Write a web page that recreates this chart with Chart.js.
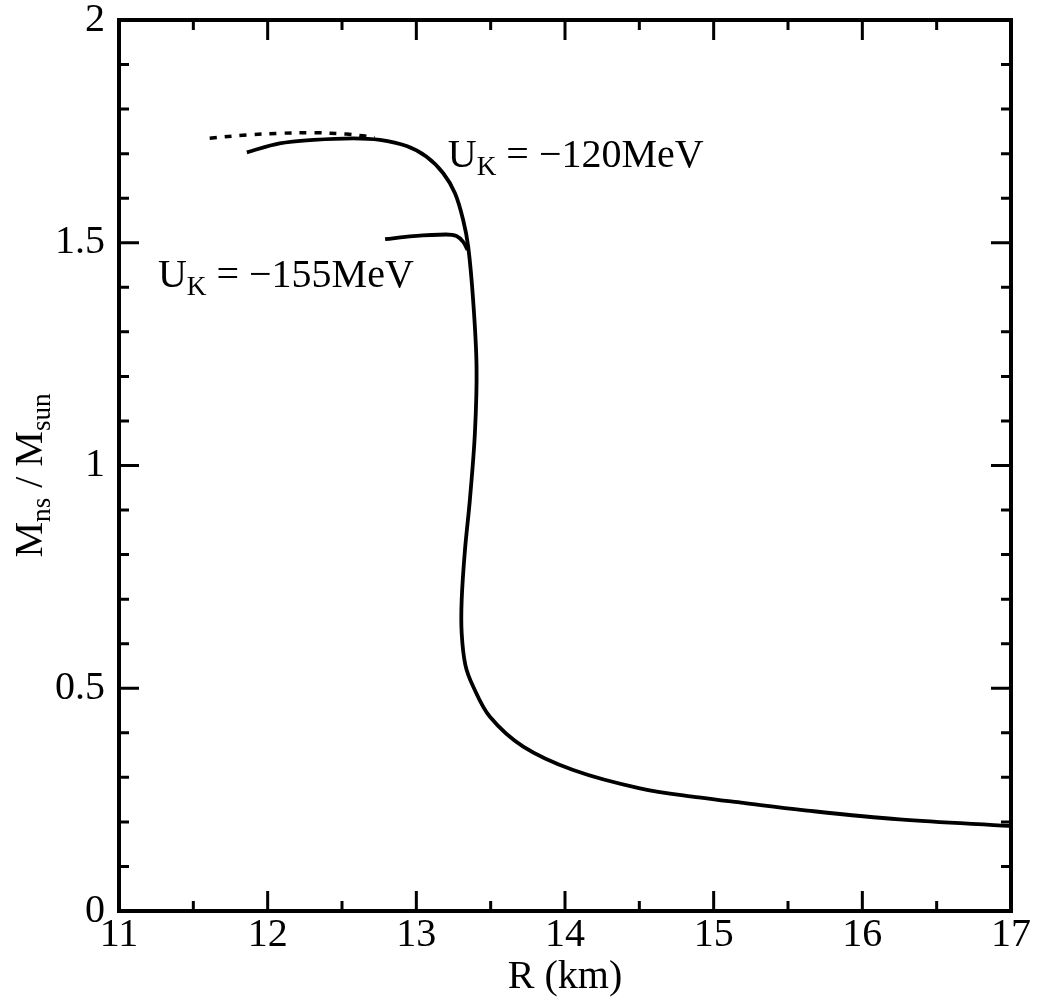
<!DOCTYPE html>
<html>
<head>
<meta charset="utf-8">
<title>Mass-radius relation</title>
<script src="https://cdn.jsdelivr.net/npm/chart.js@4.4.1/dist/chart.umd.min.js"></script>
<style>
    body { margin: 0; background: #fff; }
    canvas { display: block; }
</style>
</head>
<body>
<canvas id="mrChart" width="1037" height="1001"></canvas>
<script>
// U_K = -120 MeV, solid branch (R in km, M in M_sun)
const r120 = [11.86, 12.08, 12.31, 12.576, 12.755, 12.935, 13.069, 13.181, 13.26, 13.315, 13.349, 13.382, 13.405, 13.394, 13.36, 13.327, 13.305, 13.305, 13.33, 13.383, 13.495, 13.719, 14.055, 14.504, 14.9, 15.2, 15.6, 16.25, 16.99];
const m120 = [1.703, 1.723, 1.731, 1.7345, 1.731, 1.717, 1.693, 1.656, 1.611, 1.551, 1.491, 1.3715, 1.222, 1.073, 0.9226, 0.810, 0.698, 0.624, 0.552, 0.5035, 0.436, 0.369, 0.3165, 0.2754, 0.255, 0.2425, 0.2265, 0.2055, 0.191];

// dotted branch on top
const r120dot = [11.61, 11.86, 12.08, 12.31, 12.53, 12.64, 12.72];
const m120dot = [1.7345, 1.742, 1.7457, 1.747, 1.744, 1.740, 1.736];

// U_K = -155 MeV
const r155 = [12.79, 12.98, 13.20, 13.27, 13.315, 13.345];
const m155 = [1.508, 1.515, 1.5185, 1.515, 1.502, 1.484];

// axis ticks
const xTickValues = [11, 12, 13, 14, 15, 16, 17];
const xMinorTicks = [11.5, 12.5, 13.5, 14.5, 15.5, 16.5];
const yTickValues = [0, 0.5, 1, 1.5, 2];
const yTickLabels = ['0', '0.5', '1', '1.5', '2'];
const yMinorTicks = [0.1, 0.2, 0.3, 0.4, 0.6, 0.7, 0.8, 0.9, 1.1, 1.2, 1.3, 1.4, 1.6, 1.7, 1.8, 1.9];

const FONT = "'Liberation Serif', 'Times New Roman', serif";

const toPoints = (xs, ys) => xs.map((v, i) => ({ x: v, y: ys[i] }));

// draws text like U_K with a subscript
function drawSubText(ctx, parts, x, y, size) {
    let cx = x;
    parts.forEach(p => {
        const sz = p.sub ? size * 0.68 : size;
        ctx.font = `${sz}px ${FONT}`;
        ctx.fillText(p.t, cx, p.sub ? y + size * 0.2 : y);
        cx += ctx.measureText(p.t).width;
    });
}

const framePlugin = {
    id: 'framePlugin',
    afterDatasetsDraw(chart) {
        const { ctx, chartArea: a, scales: { x, y } } = chart;
        ctx.save();
        ctx.strokeStyle = '#000';
        ctx.lineCap = 'butt';

        ctx.lineWidth = 3;
        const tick = (px, len, vertical) => {
            ctx.beginPath();
            if (vertical) {
                ctx.moveTo(px, a.bottom); ctx.lineTo(px, a.bottom - len);
                ctx.moveTo(px, a.top); ctx.lineTo(px, a.top + len);
            } else {
                ctx.moveTo(a.left, px); ctx.lineTo(a.left + len, px);
                ctx.moveTo(a.right, px); ctx.lineTo(a.right - len, px);
            }
            ctx.stroke();
        };
        xTickValues.forEach(v => tick(x.getPixelForValue(v), 20, true));
        xMinorTicks.forEach(v => tick(x.getPixelForValue(v), 10, true));
        yTickValues.forEach(v => tick(y.getPixelForValue(v), 20, false));
        yMinorTicks.forEach(v => tick(y.getPixelForValue(v), 10, false));

        ctx.lineWidth = 4;
        ctx.strokeRect(a.left, a.top, a.right - a.left, a.bottom - a.top);

        // curve labels
        ctx.fillStyle = '#000';
        ctx.textBaseline = 'alphabetic';
        ctx.textAlign = 'left';
        drawSubText(ctx, [{ t: 'U' }, { t: 'K', sub: true }, { t: ' = \u2212120MeV' }],
            x.getPixelForValue(13.212), y.getPixelForValue(1.670), 40);
        drawSubText(ctx, [{ t: 'U' }, { t: 'K', sub: true }, { t: ' = \u2212155MeV' }],
            x.getPixelForValue(11.262), y.getPixelForValue(1.4007), 40);

        // y axis title, rotated
        ctx.translate(42, y.getPixelForValue(1.0) + 92);
        ctx.rotate(-Math.PI / 2);
        drawSubText(ctx, [{ t: 'M' }, { t: 'ns', sub: true }, { t: ' / M' }, { t: 'sun', sub: true }], 0, 0, 40);
        ctx.restore();
    }
};

const ctx = document.getElementById('mrChart').getContext('2d');
new Chart(ctx, {
    type: 'scatter',
    data: {
        datasets: [
            {
                label: 'U_K = -120MeV',
                data: toPoints(r120, m120),
                showLine: true,
                borderColor: '#000',
                borderWidth: 3.8,
                pointRadius: 0,
                tension: 0.35
            },
            {
                label: 'U_K = -120MeV (dotted)',
                data: toPoints(r120dot, m120dot),
                showLine: true,
                borderColor: '#000',
                borderWidth: 3.5,
                borderDash: [7, 8],
                pointRadius: 0,
                tension: 0.35
            },
            {
                label: 'U_K = -155MeV',
                data: toPoints(r155, m155),
                showLine: true,
                borderColor: '#000',
                borderWidth: 3.8,
                pointRadius: 0,
                tension: 0.35
            }
        ]
    },
    options: {
        responsive: false,
        animation: false,
        layout: { padding: { top: 20, right: 26, left: 0, bottom: 0 } },
        plugins: {
            legend: { display: false },
            tooltip: { enabled: false }
        },
        scales: {
            x: {
                type: 'linear',
                min: 11,
                max: 17,
                afterFit: s => { s.height = 90; s.paddingLeft = 0; s.paddingRight = 0; },
                afterBuildTicks: s => { s.ticks = xTickValues.map(v => ({ value: v })); },
                grid: { display: false, drawTicks: false },
                border: { display: false },
                ticks: {
                    color: '#000',
                    font: { family: FONT, size: 40 },
                    padding: 0,
                    maxRotation: 0,
                    autoSkip: false
                },
                title: {
                    display: true,
                    text: 'R (km)',
                    color: '#000',
                    font: { family: FONT, size: 40 },
                    padding: { top: 0, bottom: 0 }
                }
            },
            y: {
                type: 'linear',
                min: 0,
                max: 2,
                afterFit: s => { s.width = 119; s.paddingTop = 0; s.paddingBottom = 0; },
                afterBuildTicks: s => { s.ticks = yTickValues.map(v => ({ value: v })); },
                grid: { display: false, drawTicks: false },
                border: { display: false },
                ticks: {
                    color: '#000',
                    font: { family: FONT, size: 40 },
                    padding: 14,
                    autoSkip: false,
                    callback: (v, i) => yTickLabels[i]
                }
            }
        }
    },
    plugins: [framePlugin]
});
</script>
</body>
</html>
